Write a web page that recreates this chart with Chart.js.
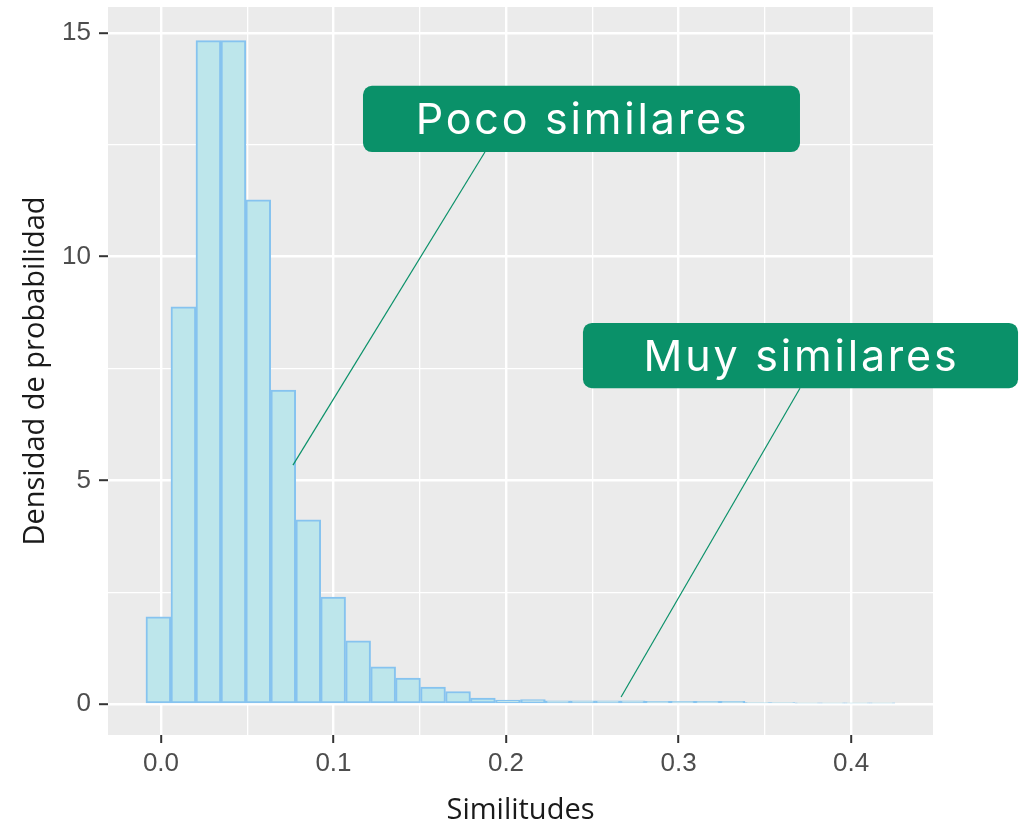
<!DOCTYPE html>
<html lang="es">
<head>
    <meta charset="UTF-8">
    <title>Histograma de similitudes</title>
    <script src="https://cdn.jsdelivr.net/npm/chart.js"></script>
    <style>
        body { margin: 0; background: #fff; }
        canvas { display: block; }
    </style>
</head>
<body>
    <canvas id="histo" width="1021" height="827"></canvas>
    <script>
        // centros de los 30 intervalos del histograma (similitud)
        const centros = [-0.0015, 0.0130, 0.0275, 0.0420, 0.0564, 0.0709, 0.0854, 0.0998, 0.1143, 0.1288,
                         0.1432, 0.1577, 0.1722, 0.1866, 0.2011, 0.2156, 0.2300, 0.2445, 0.2590, 0.2734,
                         0.2879, 0.3024, 0.3168, 0.3313, 0.3458, 0.3602, 0.3747, 0.3892, 0.4036, 0.4181];
        // densidad de probabilidad
        const densidad = [1.95, 8.88, 14.83, 14.83, 11.27, 7.02, 4.12, 2.39, 1.41, 0.83,
                          0.58, 0.38, 0.28, 0.13, 0.09, 0.10, 0.07, 0.07, 0.07, 0.07,
                          0.06, 0.06, 0.06, 0.06, 0.03, 0.03, 0.02, 0.02, 0.02, 0.02];

        const xTicks = [0, 0.05, 0.1, 0.15, 0.2, 0.25, 0.3, 0.35, 0.4];
        const yTicks = [0, 2.5, 5, 7.5, 10, 12.5, 15];

        // notas: caja [x0, yTop, x1, yBottom] y línea desde/hasta, en unidades de los ejes
        const notas = [
            { texto: 'Poco similares', caja: [0.1171, 13.82, 0.3704, 12.34], desde: [0.1878, 12.34], hasta: [0.0765, 5.34] },
            { texto: 'Muy similares', caja: [0.2446, 8.52, 0.4968, 7.06], desde: [0.3704, 7.06], hasta: [0.2667, 0.156] }
        ];

        const esMayorX = v => Math.abs(v * 10 - Math.round(v * 10)) < 1e-6;
        const esMayorY = v => v % 5 === 0;

        const fondoPanel = {
            id: 'fondoPanel',
            beforeDraw(chart) {
                const { ctx, chartArea: a } = chart;
                ctx.save();
                ctx.fillStyle = '#fff';
                ctx.fillRect(0, 0, chart.width, chart.height);
                ctx.fillStyle = '#ebebeb';
                ctx.fillRect(a.left, a.top, a.right - a.left, a.bottom - a.top);
                ctx.restore();
            }
        };

        const etiquetas = {
            id: 'etiquetas',
            afterDraw(chart) {
                const { ctx } = chart;
                const sx = chart.scales.x, sy = chart.scales.y;
                ctx.save();
                notas.forEach(n => {
                    const x0 = sx.getPixelForValue(n.caja[0]), y0 = sy.getPixelForValue(n.caja[1]);
                    const x1 = sx.getPixelForValue(n.caja[2]), y1 = sy.getPixelForValue(n.caja[3]);
                    // línea
                    ctx.strokeStyle = '#0a9169';
                    ctx.lineWidth = 1.2;
                    ctx.beginPath();
                    ctx.moveTo(sx.getPixelForValue(n.desde[0]), sy.getPixelForValue(n.desde[1]));
                    ctx.lineTo(sx.getPixelForValue(n.hasta[0]), sy.getPixelForValue(n.hasta[1]));
                    ctx.stroke();
                    // caja
                    ctx.fillStyle = '#0a9169';
                    ctx.beginPath();
                    ctx.roundRect(x0, y0, x1 - x0, y1 - y0, 9);
                    ctx.fill();
                    // texto
                    ctx.fillStyle = '#fff';
                    ctx.font = '400 43px Inter';
                    ctx.letterSpacing = '2.8px';
                    ctx.textAlign = 'center';
                    ctx.textBaseline = 'alphabetic';
                    ctx.fillText(n.texto, (x0 + x1) / 2 + 1, (y0 + y1) / 2 + 15);
                });
                ctx.restore();
            }
        };

        new Chart(document.getElementById('histo'), {
            type: 'bar',
            data: {
                datasets: [{
                    data: centros.map((c, i) => ({ x: c, y: densidad[i] })),
                    backgroundColor: '#bde6eb',
                    borderColor: '#86c3ef',
                    borderWidth: 2,
                    borderSkipped: false,
                    barPercentage: 1,
                    categoryPercentage: 1
                }]
            },
            options: {
                responsive: false,
                animation: false,
                layout: { padding: { top: 7, right: 88, left: 0, bottom: 0 } },
                plugins: { legend: { display: false }, tooltip: { enabled: false } },
                scales: {
                    x: {
                        type: 'linear',
                        min: -0.0307,
                        max: 0.4475,
                        offset: false,
                        afterBuildTicks: s => { s.ticks = xTicks.map(v => ({ value: v })); },
                        afterFit: s => { s.height = 92; s.paddingLeft = 0; s.paddingRight = 0; },
                        border: { display: false },
                        grid: {
                            offset: false,
                            color: '#fff',
                            lineWidth: c => esMayorX(c.tick.value) ? 2.4 : 1.3,
                            tickColor: c => esMayorX(c.tick.value) ? '#333' : 'rgba(0,0,0,0)',
                            tickWidth: 2,
                            tickLength: 8
                        },
                        ticks: {
                            autoSkip: false,
                            maxRotation: 0,
                            padding: 5,
                            color: '#4d4d4d',
                            font: { family: 'Liberation Sans', size: 26 },
                            callback: v => esMayorX(v) ? v.toFixed(1) : ''
                        },
                        title: {
                            display: true,
                            text: 'Similitudes',
                            color: '#1a1a1a',
                            font: { family: 'Open Sans', size: 29, lineHeight: 1.1 },
                            padding: { top: 0, bottom: 0 }
                        }
                    },
                    y: {
                        min: -0.693,
                        max: 15.582,
                        afterBuildTicks: s => { s.ticks = yTicks.map(v => ({ value: v })); },
                        afterFit: s => { s.width = 108; s.paddingTop = 0; s.paddingBottom = 0; },
                        border: { display: false },
                        grid: {
                            color: '#fff',
                            lineWidth: c => esMayorY(c.tick.value) ? 2.4 : 1.3,
                            tickColor: c => esMayorY(c.tick.value) ? '#333' : 'rgba(0,0,0,0)',
                            tickWidth: 2,
                            tickLength: 9
                        },
                        ticks: {
                            padding: 8,
                            color: '#4d4d4d',
                            font: { family: 'Liberation Sans', size: 26 },
                            callback: v => esMayorY(v) ? String(v) : ''
                        },
                        title: {
                            display: true,
                            text: 'Densidad de probabilidad',
                            color: '#1a1a1a',
                            font: { family: 'Open Sans', size: 29, lineHeight: 1.1 },
                            padding: { top: 20, bottom: 0 }
                        }
                    }
                }
            },
            plugins: [fondoPanel, etiquetas]
        });
    </script>
</body>
</html>
